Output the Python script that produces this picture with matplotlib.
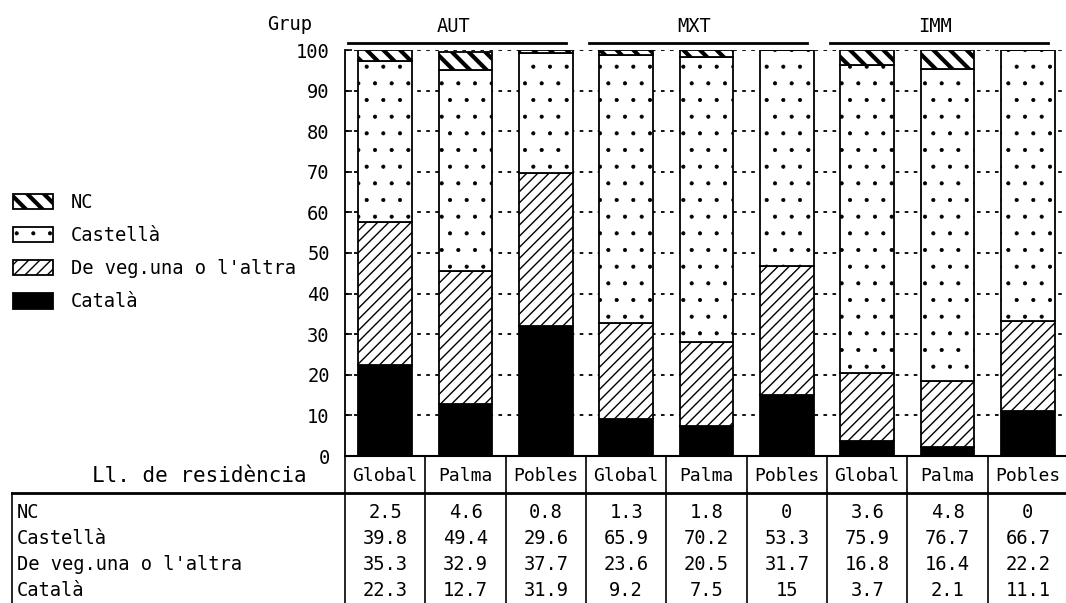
import matplotlib
matplotlib.use('Agg')
import matplotlib.pyplot as plt
from matplotlib.transforms import blended_transform_factory
import numpy as np

# ---------------- data ----------------
groups = ['AUT', 'MXT', 'IMM']
places = ['Global', 'Palma', 'Pobles']
legend_labels = ['NC', 'Castellà', "De veg.una o l'altra", 'Català']
table_labels = ['NC', 'Castellà', "De veg.una o l'altra", 'Català']
nc       = [2.5, 4.6, 0.8, 1.3, 1.8, 0, 3.6, 4.8, 0]
castella = [39.8, 49.4, 29.6, 65.9, 70.2, 53.3, 75.9, 76.7, 66.7]
deveg    = [35.3, 32.9, 37.7, 23.6, 20.5, 31.7, 16.8, 16.4, 22.2]
catala   = [22.3, 12.7, 31.9, 9.2, 7.5, 15, 3.7, 2.1, 11.1]
yticks = [0, 10, 20, 30, 40, 50, 60, 70, 80, 90, 100]

plt.rcParams['font.family'] = ['DejaVu Sans Mono', 'DejaVu Sans']
FS = 13.5

W, H = 1066, 603
fig = plt.figure(figsize=(W / 100, H / 100), dpi=100)
fig.patch.set_facecolor('white')

# pixel geometry of the plot area
x0, x1 = 345, 1068
y_top, y_bot = 50, 456
ax = fig.add_axes([x0 / W, (H - y_bot) / H, (x1 - x0) / W, (y_bot - y_top) / H])
ov = fig.add_axes([0, 0, 1, 1], zorder=-1)
ov.set_xlim(0, W)
ov.set_ylim(H, 0)
ov.axis('off')

n = len(catala)
x = np.arange(n)
bw = 0.67
cat = np.array(catala, float)
dv = np.array(deveg, float)
cs = np.array(castella, float)
ncv = np.array(nc, float)

HLW = {}


def stack(vals, bottom, face, hatch, hlw):
    with plt.rc_context({'hatch.linewidth': hlw}):
        b = ax.bar(x, vals, bw, bottom=bottom, color=face, edgecolor='black',
                   linewidth=1.3, hatch=hatch, zorder=3)
    for p in b:
        if hasattr(p, 'set_hatch_linewidth'):
            p.set_hatch_linewidth(hlw)
    return b

b_cat = stack(cat, 0, 'black', None, 1.0)
b_dv = stack(dv, cat, 'white', '///', 1.0)
b_cs = stack(cs, cat + dv, 'white', '.', 0.5)
b_nc = stack(ncv, cat + dv + cs, 'white', '\\\\', 3.0)

ax.set_xlim(-0.5, n - 0.5)
ax.set_ylim(0, 100)
ax.set_yticks(yticks)
ax.set_yticklabels([str(t) for t in yticks], fontsize=FS)
ax.set_xticks([])
ax.tick_params(axis='y', direction='in', length=5, width=1.2, pad=11)
for s in ['top', 'right']:
    ax.spines[s].set_visible(False)
ax.spines['left'].set_linewidth(1.3)
ax.spines['bottom'].set_linewidth(1.5)
ax.yaxis.grid(True, color='black', linestyle=(0, (2, 3)), linewidth=1.3)
ax.set_axisbelow(True)
ax.patch.set_alpha(0)

# blended transforms: x in data units, y in figure pixels (top-down)
bt = blended_transform_factory(ax.transData, ov.transData)

# group header
fig.text(312 / W, 1 - 25 / H, 'Grup', ha='right', va='center', fontsize=FS)
for gi, g in enumerate(groups):
    s = gi * 3
    ax.plot([s - 0.46, s + 2.25], [43, 43], color='black', lw=2,
            transform=bt, clip_on=False)
    ax.text(s + 0.85, 26, g, ha='center', va='center', fontsize=FS,
            transform=bt)

# header row (places)
ov.text(307, 476, 'Ll. de residència', ha='right', va='center', fontsize=15)
for i in range(n):
    ax.text(x[i], 476, places[i % 3], ha='center', va='center', fontsize=13,
            transform=bt, clip_on=False)
for i in range(n + 1):
    ax.plot([i - 0.5, i - 0.5], [457, 603], color='black', lw=1.2,
            transform=bt, clip_on=False)

# table
ov.plot([12, W], [493, 493], color='black', lw=2)
ov.plot([12, 12], [493, H], color='black', lw=1.2)
row_y = [513, 539, 565, 591]
rows = [nc, castella, deveg, catala]
for r, (lab, vals) in enumerate(zip(table_labels, rows)):
    ov.text(17, row_y[r], lab, ha='left', va='center', fontsize=FS)
    for i in range(n):
        ax.text(x[i], row_y[r], f'{vals[i]:g}', ha='center', va='center',
                fontsize=FS, transform=bt, clip_on=False)

# legend
fsz_px = FS * 100 / 72
leg = fig.legend([b_nc, b_cs, b_dv, b_cat], legend_labels, loc='upper left',
                 bbox_to_anchor=(13 / W, 1 - 193 / H), frameon=False, fontsize=FS,
                 handlelength=40 / fsz_px, handleheight=17 / fsz_px,
                 labelspacing=0.75, handletextpad=18 / fsz_px,
                 borderpad=0, borderaxespad=0)
for h, w in zip(leg.legend_handles, [3.0, 0.5, 1.0, 1.0]):
    if hasattr(h, 'set_hatch_linewidth'):
        h.set_hatch_linewidth(w)

fig.savefig('out.png', dpi=100, facecolor='white')
